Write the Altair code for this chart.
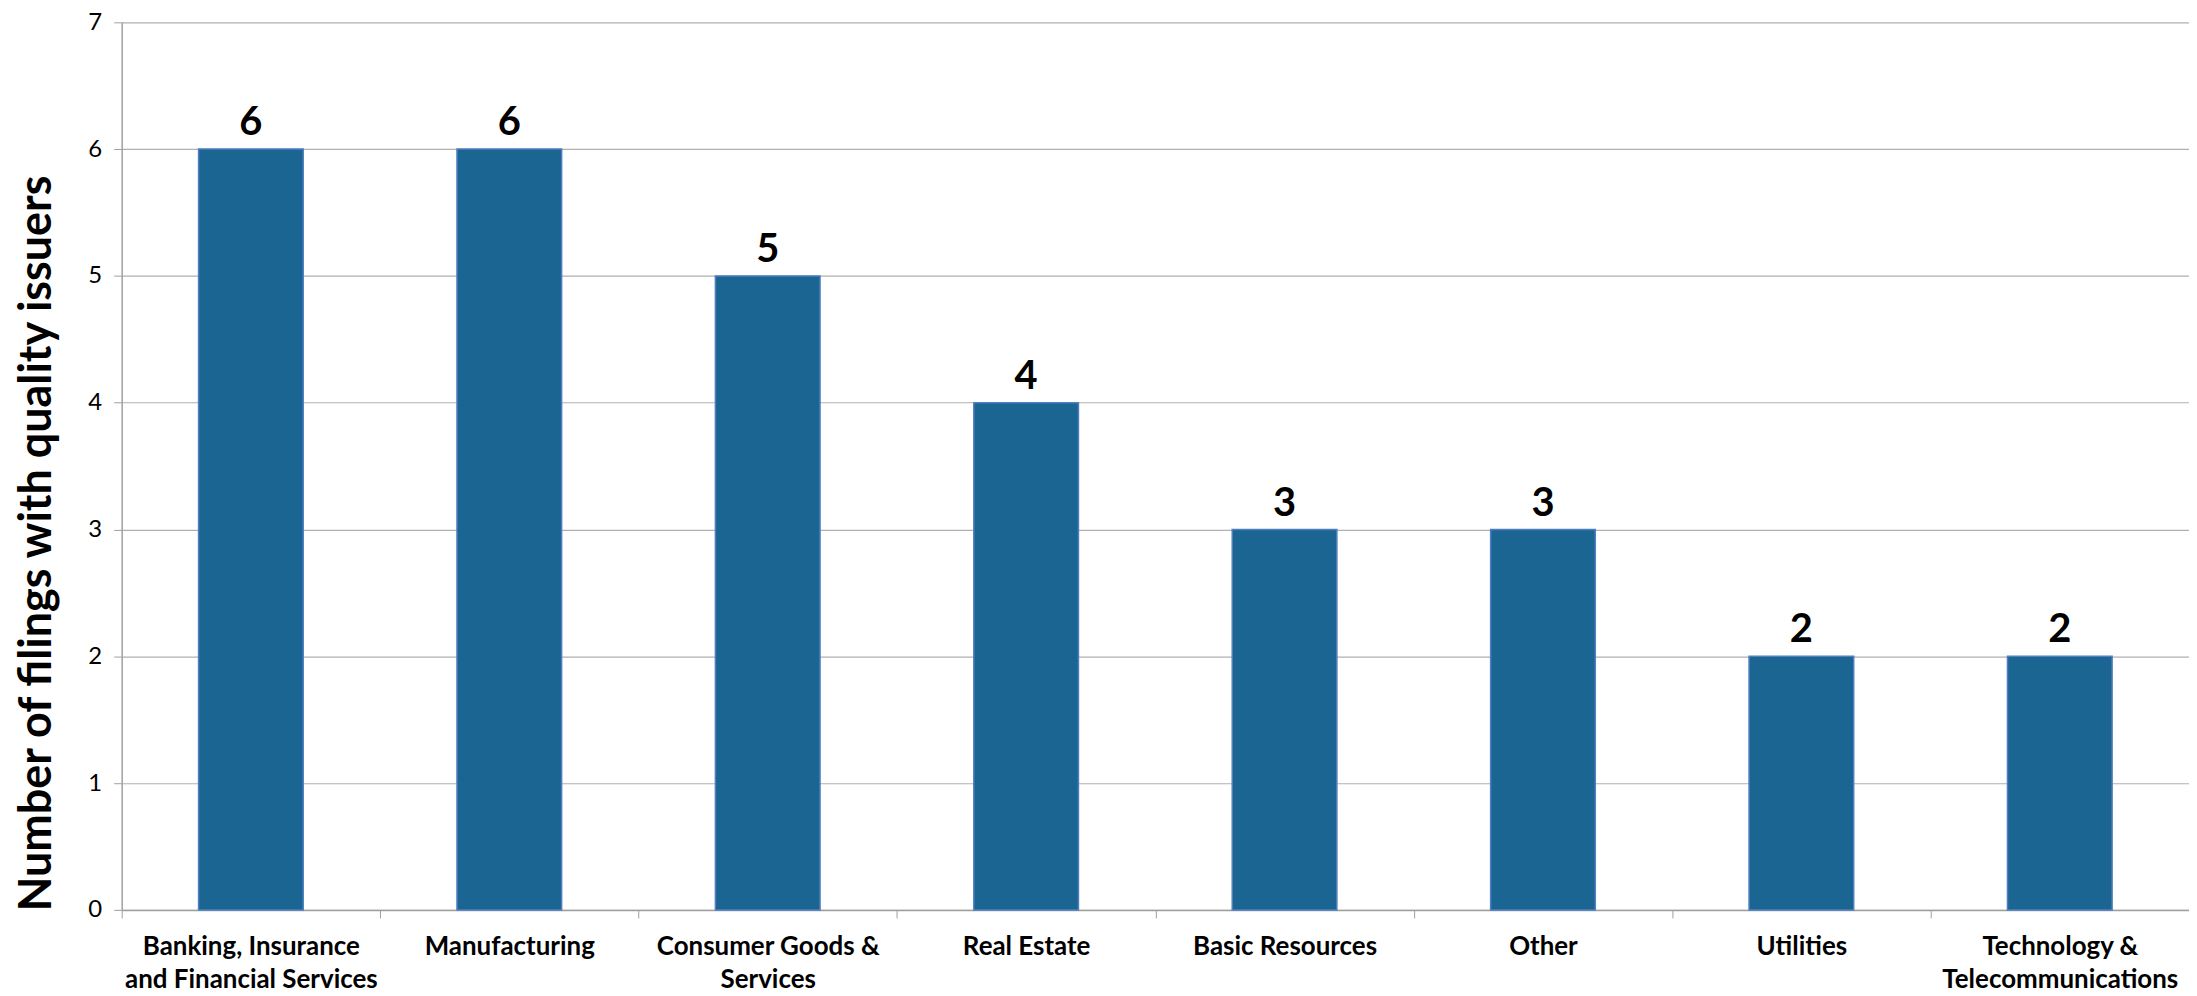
import altair as alt
import pandas as pd

categories = [
    "Banking, Insurance\nand Financial Services",
    "Manufacturing",
    "Consumer Goods &\nServices",
    "Real Estate",
    "Basic Resources",
    "Other",
    "Utilities",
    "Technology &\nTelecommunications",
]
counts = [6, 6, 5, 4, 3, 3, 2, 2]
y_ticks = [0, 1, 2, 3, 4, 5, 6, 7]

df = pd.DataFrame({"sector": categories, "count": counts})

FONT = "Lato"

x = alt.X(
    "sector:N",
    sort=categories,
    scale=alt.Scale(paddingInner=0, paddingOuter=0),
    axis=alt.Axis(
        title=None,
        labelAngle=0,
        labelExpr="split(datum.label, '\\n')",
        labelFont=FONT,
        labelFontWeight="bold",
        labelFontSize=26,
        labelColor="#000000",
        labelLineHeight=33,
        labelPadding=16,
        labelBaseline="top",
        labelLimit=0,
        tickBand="extent",
        tickSize=8,
        tickColor="#a0a0a0",
        domainColor="#a0a0a0",
        domainWidth=1.5,
        grid=False,
    ),
)

y = alt.Y(
    "count:Q",
    scale=alt.Scale(domain=[0, 7], nice=False),
    axis=alt.Axis(
        values=y_ticks,
        title="Number of filings with quality issuers",
        titleFont=FONT,
        titleFontWeight="bold",
        titleFontSize=45,
        titleColor="#000000",
        titleAngle=270,
        titleX=-85,
        titleY=522,
        titleAlign="center",
        titleBaseline="middle",
        titleLimit=0,
        labelFont=FONT,
        labelFontSize=24,
        labelColor="#000000",
        labelPadding=12,
        tickSize=8,
        tickColor="#a0a0a0",
        domainColor="#a0a0a0",
        domainWidth=1.5,
        gridColor="#b0b0b0",
        gridWidth=1.2,
    ),
)

bars = alt.Chart(df).mark_bar(
    width=alt.RelativeBandSize(0.405),
    color="#1a6591",
    stroke="#4f7fc0",
    strokeWidth=1.5,
).encode(x=x, y=y)

text = alt.Chart(df).mark_text(
    font=FONT,
    fontWeight="bold",
    fontSize=40,
    color="#000000",
    baseline="alphabetic",
    dy=-14,
).encode(x=x, y=y, text="count:Q")

chart = (bars + text).properties(
    width=2073,
    height=890,
    autosize=alt.AutoSizeParams(type="none"),
    padding={"left": 114, "top": 13, "right": 0, "bottom": 86},
).configure_view(stroke=None)

chart.save("out.html", embed_options={"renderer": "svg", "actions": False})
